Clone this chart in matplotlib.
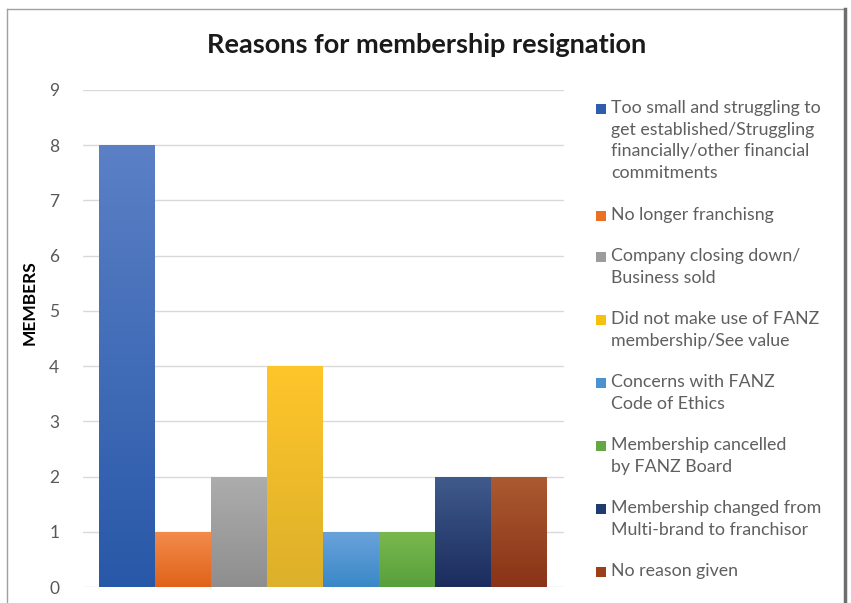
import numpy as np
import matplotlib.pyplot as plt
from matplotlib.patches import Rectangle
from matplotlib.colors import LinearSegmentedColormap
from matplotlib.lines import Line2D

# data
reasons = [
    "Too small and struggling to\nget established/Struggling\nfinancially/other financial\ncommitments",
    "No longer franchisng",
    "Company closing down/\nBusiness sold",
    "Did not make use of FANZ\nmembership/See value",
    "Concerns with FANZ\nCode of Ethics",
    "Membership cancelled\nby FANZ Board",
    "Membership changed from\nMulti-brand to franchisor",
    "No reason given",
]
members = [8, 1, 2, 4, 1, 1, 2, 2]
yticks = list(range(0, 10))

# colours: (top, bottom) of each bar's gradient, plus legend swatch colour
tops = ["#5b80c6", "#f38c4c", "#adadad", "#ffc62a", "#6aa3da", "#7ab84e", "#3f5b8c", "#ab5a30"]
bottoms = ["#2858a8", "#e0621a", "#8e8e8e", "#dcb02a", "#3a88c8", "#58a03c", "#1c2c5e", "#8a3318"]
swatch = ["#2f5dad", "#ec7022", "#9c9c9c", "#f6c00f", "#4a92d0", "#64a844", "#1f3b70", "#9c401a"]

plt.rcParams['font.family'] = ['Lato', 'DejaVu Sans']

W, H = 851, 603
fig = plt.figure(figsize=(W / 100, H / 100), dpi=100)
ax = fig.add_axes([83 / W, 16 / H, 481 / W, 497 / H])

x = np.arange(len(members))
bars = ax.bar(x, members, width=1.0, color=swatch, edgecolor='none', zorder=2)

# gradient fill clipped to each bar
for b, t, bo in zip(bars, tops, bottoms):
    cmap = LinearSegmentedColormap.from_list('g', [bo, t])
    grad = np.linspace(0, 1, 256).reshape(-1, 1)
    x0, y0 = b.get_x(), b.get_y()
    im = ax.imshow(grad, cmap=cmap, aspect='auto', origin='lower',
                   extent=[x0, x0 + b.get_width(), y0, y0 + b.get_height()], zorder=3)
    im.set_clip_path(b)

ax.set_xlim(-0.79, 7.8)
ax.set_ylim(0, 9)
ax.set_yticks(yticks)
ax.set_yticklabels([str(v) for v in yticks], fontsize=12.5, color='#595959')
ax.set_xticks([])
ax.tick_params(axis='y', length=0, pad=17)
ax.grid(axis='y', color='#d9d9d9', linewidth=1, zorder=0)
ax.set_axisbelow(True)
for s in ax.spines.values():
    s.set_visible(False)

fig.text(30 / W, 1 - 303 / H, "MEMBERS", rotation=90, ha='center', va='center',
         fontsize=12.5, fontweight='bold', color='#000000')

fig.text(427 / W, 1 - 45 / H, "Reasons for membership resignation",
         ha='center', va='center', fontsize=19.5, fontweight='bold', color='#1a1a1a')

# legend, drawn entry by entry so the swatch sits on the first line
line_h = 22
gap = 19
y = 109
for lab, c in zip(reasons, swatch):
    fig.add_artist(Rectangle((596 / W, 1 - (y + 5) / H), 10 / W, 10 / H,
                             transform=fig.transFigure, facecolor=c, edgecolor='none'))
    fig.text(611 / W, 1 - (y - 9) / H, lab, ha='left', va='top', fontsize=12.8,
             color='#5f5f5f', linespacing=1.43)
    y += line_h * (lab.count("\n") + 1) + gap

# chart frame
fig.add_artist(Line2D([7 / W, 7 / W], [0, 1 - 9 / H], transform=fig.transFigure, color='#a0a0a0', lw=1))
fig.add_artist(Line2D([7 / W, 845 / W], [1 - 9 / H, 1 - 9 / H], transform=fig.transFigure, color='#a0a0a0', lw=1))
fig.add_artist(Line2D([845 / W, 845 / W], [0, 1 - 9 / H], transform=fig.transFigure, color='#6e6e6e', lw=2.5))

fig.savefig('out.png', dpi=100)
